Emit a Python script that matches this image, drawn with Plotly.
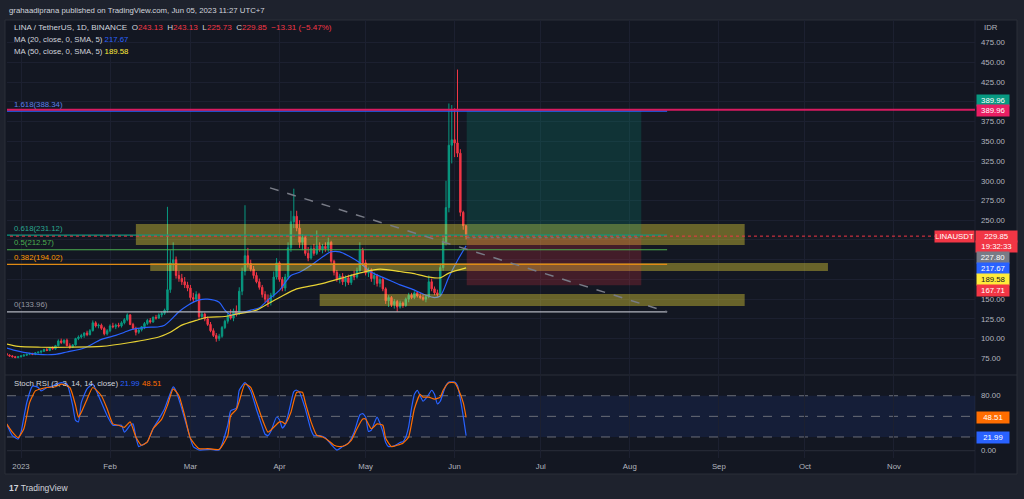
import pandas as pd
import plotly.graph_objects as go

# ---------------- data ----------------
candle_dates = pd.date_range("2022-12-27", "2023-06-05", freq="D")

opens = [81, 79, 78, 77, 76, 77, 78, 79, 80, 81,
         80, 82, 83, 84, 86, 85, 88, 87, 91, 97,
         95, 98, 91, 89, 92, 100, 102, 104, 107, 105,
         110, 120, 116, 117, 113, 106, 110, 116, 115, 117,
         116, 120, 124, 130, 118, 113, 108, 111, 115, 119,
         123, 121, 127, 126, 130, 132, 136, 162, 196, 200,
         180, 176, 172, 168, 164, 152, 150, 156, 128, 131,
         125, 118, 110, 104, 100, 103, 114, 122, 129, 126,
         135, 131, 160, 185, 205, 195, 188, 180, 172, 165,
         156, 150, 146, 155, 178, 196, 175, 164, 178, 215,
         248, 255, 240, 222, 228, 208, 202, 214, 208, 218,
         213, 217, 214, 222, 198, 184, 175, 179, 172, 177,
         171, 180, 178, 186, 212, 196, 183, 187, 176, 180,
         170, 175, 163, 148, 152, 143, 147, 140, 145, 142,
         150, 155, 152, 158, 154, 152, 150, 153, 172, 163,
         158, 156, 190, 222, 266, 345, 352, 348, 335, 260,
         243.13]
highs = [82, 80, 79, 78, 78, 79, 80, 81, 82, 82,
         83, 83, 85, 87, 88, 89, 90, 92, 99, 100,
         99, 100, 94, 93, 101, 104, 106, 108, 110, 112,
         123, 122, 119, 119, 115, 112, 118, 120, 119, 120,
         122, 126, 132, 131, 120, 115, 113, 116, 121, 125,
         126, 128, 130, 132, 134, 138, 267, 212, 222, 204,
         186, 182, 178, 172, 168, 158, 160, 158, 134, 133,
         128, 121, 113, 107, 106, 116, 124, 132, 137, 138,
         142, 165, 190, 269, 215, 200, 192, 184, 176, 168,
         160, 156, 158, 185, 202, 198, 178, 182, 222, 262,
         290, 262, 250, 232, 230, 216, 218, 220, 237, 222,
         220, 222, 228, 224, 200, 187, 182, 183, 180, 181,
         182, 186, 190, 222, 215, 200, 190, 189, 184, 182,
         178, 177, 165, 155, 154, 150, 149, 148, 147, 152,
         158, 158, 160, 160, 158, 156, 155, 180, 176, 166,
         162, 195, 228, 300, 398, 396, 392, 441, 340, 262,
         243.13]
lows = [78, 77, 76, 75, 75, 76, 77, 78, 79, 79,
        79, 81, 81, 83, 84, 84, 86, 86, 90, 93,
        93, 90, 87, 88, 91, 98, 100, 101, 103, 104,
        109, 114, 113, 111, 104, 104, 108, 113, 112, 114,
        114, 118, 122, 117, 111, 104, 106, 109, 112, 117,
        119, 120, 124, 125, 127, 130, 133, 158, 186, 176,
        172, 168, 164, 160, 148, 146, 147, 124, 124, 122,
        116, 108, 102, 96, 97, 101, 112, 119, 124, 122,
        128, 130, 155, 180, 190, 185, 176, 170, 162, 152,
        146, 140, 142, 152, 175, 172, 160, 160, 175, 210,
        240, 236, 215, 212, 205, 198, 200, 205, 206, 210,
        208, 210, 210, 195, 180, 172, 170, 168, 166, 168,
        168, 174, 176, 184, 192, 180, 178, 172, 168, 166,
        165, 160, 144, 140, 140, 138, 134, 138, 139, 140,
        146, 150, 150, 152, 150, 148, 146, 151, 160, 155,
        153, 154, 186, 218, 260, 322, 330, 330, 255, 238,
        225.73]
closes = [79, 78, 77, 76, 77, 78, 79, 80, 81, 80,
          82, 83, 84, 86, 85, 88, 87, 91, 97, 95,
          98, 91, 89, 92, 100, 102, 104, 107, 105, 110,
          120, 116, 117, 113, 106, 110, 116, 115, 117, 116,
          120, 124, 130, 118, 113, 108, 111, 115, 119, 123,
          121, 127, 126, 130, 132, 136, 162, 196, 200, 180,
          176, 172, 168, 164, 152, 150, 156, 128, 131, 125,
          118, 110, 104, 100, 103, 114, 122, 129, 126, 135,
          131, 160, 185, 205, 195, 188, 180, 172, 165, 156,
          150, 146, 155, 178, 196, 175, 164, 178, 215, 248,
          255, 240, 222, 228, 208, 202, 214, 208, 218, 213,
          217, 214, 222, 198, 184, 175, 179, 172, 177, 171,
          180, 178, 186, 212, 196, 183, 187, 176, 180, 170,
          175, 163, 148, 152, 143, 147, 140, 145, 142, 150,
          155, 152, 158, 154, 152, 150, 153, 172, 163, 158,
          156, 190, 222, 266, 345, 352, 348, 335, 260, 243.13,
          229.85]

ma20_dates = ["2022-12-27", "2022-12-31", "2023-01-07", "2023-01-13", "2023-01-17",
              "2023-01-23", "2023-01-29", "2023-02-03", "2023-02-06", "2023-02-09",
              "2023-02-13", "2023-02-18", "2023-02-20", "2023-02-22", "2023-02-25",
              "2023-02-28", "2023-03-04", "2023-03-07", "2023-03-11", "2023-03-13",
              "2023-03-15", "2023-03-17", "2023-03-22", "2023-03-25", "2023-03-28",
              "2023-04-01", "2023-04-05", "2023-04-08", "2023-04-12", "2023-04-17",
              "2023-04-19", "2023-04-22", "2023-04-25", "2023-04-29", "2023-05-03",
              "2023-05-08", "2023-05-13", "2023-05-17", "2023-05-22", "2023-05-25",
              "2023-05-27", "2023-05-30", "2023-06-02", "2023-06-05"]
ma20_vals = [88, 84, 80, 80, 83, 88, 99, 104, 108, 112,
             114, 115, 117, 123, 134, 142, 149, 150, 146, 136,
             130, 131, 136, 139, 149, 161, 180, 184, 193, 206,
             210, 210, 205, 196, 184, 176, 168, 163, 155, 152,
             154, 178, 199, 217.67]

ma50_dates = ["2022-12-27", "2022-12-31", "2023-01-08", "2023-01-17", "2023-01-29",
              "2023-02-08", "2023-02-18", "2023-02-22", "2023-02-26", "2023-03-03",
              "2023-03-07", "2023-03-13", "2023-03-17", "2023-03-24", "2023-03-27",
              "2023-04-01", "2023-04-07", "2023-04-15", "2023-04-22", "2023-04-30",
              "2023-05-06", "2023-05-13", "2023-05-17", "2023-05-23", "2023-05-27",
              "2023-05-30", "2023-06-05"]
ma50_vals = [93, 90, 89, 89, 90, 95, 102, 108, 117, 123,
             127, 128, 131, 136, 142, 152, 163, 169, 176, 184,
             188, 185, 183, 178, 177, 183, 189.58]

k_dates = ["2022-12-27", "2022-12-29", "2022-12-31", "2023-01-01", "2023-01-03",
           "2023-01-05", "2023-01-07", "2023-01-08", "2023-01-10", "2023-01-12",
           "2023-01-15", "2023-01-17", "2023-01-19", "2023-01-20", "2023-01-21",
           "2023-01-22", "2023-01-24", "2023-01-26", "2023-01-28", "2023-01-31",
           "2023-02-02", "2023-02-05", "2023-02-06", "2023-02-08", "2023-02-09",
           "2023-02-10", "2023-02-11", "2023-02-12", "2023-02-14", "2023-02-16",
           "2023-02-18", "2023-02-20", "2023-02-23", "2023-02-24", "2023-02-26",
           "2023-02-28", "2023-03-02", "2023-03-04", "2023-03-08", "2023-03-11",
           "2023-03-14", "2023-03-15", "2023-03-17", "2023-03-18", "2023-03-20",
           "2023-03-22", "2023-03-24", "2023-03-26", "2023-03-27", "2023-03-28",
           "2023-03-29", "2023-03-31", "2023-04-01", "2023-04-02", "2023-04-03",
           "2023-04-04", "2023-04-05", "2023-04-06", "2023-04-07", "2023-04-08",
           "2023-04-10", "2023-04-12", "2023-04-13", "2023-04-15", "2023-04-17",
           "2023-04-19", "2023-04-21", "2023-04-23", "2023-04-25", "2023-04-27",
           "2023-04-29", "2023-04-30", "2023-05-01", "2023-05-02", "2023-05-03",
           "2023-05-04", "2023-05-05", "2023-05-06", "2023-05-07", "2023-05-08",
           "2023-05-09", "2023-05-11", "2023-05-13", "2023-05-14", "2023-05-15",
           "2023-05-16", "2023-05-17", "2023-05-18", "2023-05-19", "2023-05-20",
           "2023-05-21", "2023-05-22", "2023-05-23", "2023-05-24", "2023-05-25",
           "2023-05-26", "2023-05-27", "2023-05-28", "2023-05-29", "2023-05-30",
           "2023-05-31", "2023-06-01", "2023-06-02", "2023-06-03", "2023-06-04",
           "2023-06-05"]
k_vals = [39, 22, 17, 27, 70, 94, 92, 87, 92, 94,
          99, 97, 66, 44, 42, 70, 90, 97, 80, 51,
          37, 37, 27, 37, 39, 20, 6, 8, 13, 32,
          46, 61, 93, 87, 61, 32, 6, 1, 2, 1,
          37, 58, 62, 88, 99, 87, 60, 35, 24, 22,
          28, 49, 45, 33, 38, 52, 70, 86, 88, 85,
          61, 30, 22, 22, 19, 9, 1, 6, 11, 27,
          52, 54, 49, 28, 30, 40, 49, 40, 28, 12,
          6, 7, 12, 13, 20, 35, 62, 82, 88, 80,
          72, 76, 82, 88, 82, 68, 72, 84, 95, 100,
          100, 100, 95, 75, 50, 21.99]

d_dates = ["2022-12-27", "2022-12-29", "2022-12-31", "2023-01-02", "2023-01-04",
           "2023-01-06", "2023-01-08", "2023-01-10", "2023-01-13", "2023-01-15",
           "2023-01-18", "2023-01-20", "2023-01-21", "2023-01-22", "2023-01-24",
           "2023-01-26", "2023-01-29", "2023-01-31", "2023-02-02", "2023-02-04",
           "2023-02-06", "2023-02-08", "2023-02-10", "2023-02-12", "2023-02-14",
           "2023-02-16", "2023-02-19", "2023-02-21", "2023-02-23", "2023-02-25",
           "2023-02-27", "2023-03-01", "2023-03-04", "2023-03-07", "2023-03-11",
           "2023-03-14", "2023-03-15", "2023-03-17", "2023-03-18", "2023-03-20",
           "2023-03-22", "2023-03-24", "2023-03-26", "2023-03-28", "2023-03-29",
           "2023-04-01", "2023-04-02", "2023-04-03", "2023-04-05", "2023-04-07",
           "2023-04-09", "2023-04-10", "2023-04-12", "2023-04-14", "2023-04-16",
           "2023-04-18", "2023-04-20", "2023-04-22", "2023-04-24", "2023-04-26",
           "2023-04-28", "2023-04-30", "2023-05-01", "2023-05-03", "2023-05-05",
           "2023-05-07", "2023-05-08", "2023-05-10", "2023-05-12", "2023-05-14",
           "2023-05-16", "2023-05-18", "2023-05-20", "2023-05-21", "2023-05-23",
           "2023-05-25", "2023-05-27", "2023-05-28", "2023-05-30", "2023-06-01",
           "2023-06-02", "2023-06-04", "2023-06-05"]
d_vals = [39, 27, 19, 32, 70, 87, 90, 92, 93, 97,
          92, 66, 49, 56, 75, 92, 80, 61, 39, 37,
          34, 42, 20, 8, 13, 32, 46, 66, 90, 80,
          51, 18, 3, 3, 2, 22, 51, 60, 72, 97,
          92, 70, 46, 27, 30, 42, 42, 39, 56, 85,
          85, 70, 42, 22.5, 20, 15, 8, 6, 8, 15,
          32, 46, 46, 32, 39, 37, 18, 6, 8, 11,
          20, 61, 82, 78, 78, 75, 78, 88, 99, 99,
          92, 70, 48.51]

# drawing levels
fib_levels = [388.34, 231.12, 212.57, 194.02, 133.96]
fib_labels = ["1.618(388.34)", "0.618(231.12)", "0.5(212.57)", "0.382(194.02)", "0(133.96)"]
fib_end = "2023-08-14"
zones = [("2023-02-10", "2023-09-10", 218.6, 245.2),
         ("2023-02-15", "2023-10-09", 185.6, 195.8),
         ("2023-04-15", "2023-09-10", 141.3, 156.5)]
entry, target, stop = 227.80, 389.96, 167.71
pos_start, pos_end = "2023-06-05 05:00", "2023-08-05"
trend = [("2023-03-28 17:00", 291.0), ("2023-08-14", 134.0)]
last_price = 229.85

month_ticks = ["2023-01-01", "2023-02-01", "2023-03-01", "2023-04-01", "2023-05-01", "2023-06-01",
               "2023-07-01", "2023-08-01", "2023-09-01", "2023-10-01", "2023-11-01"]
month_text = ["2023", "Feb", "Mar", "Apr", "May", "Jun", "Jul", "Aug", "Sep", "Oct", "Nov"]
price_ticks = list(range(75, 476, 25))
hidden_ticks = [400, 225, 200, 175]   # covered by the scale labels in the picture

# ---------------- styling ----------------
BG = "#131722"
FRAME = "#1e222d"
GRID = "#1c2030"
TXT = "#b2b5be"
GREEN = "#089981"
RED = "#f23645"
BLUE = "#2962ff"
YELLOW = "#ffeb3b"
ORANGE = "#ff6d00"
FONT = "Liberation Sans, Arial, sans-serif"
FS = 7.8


def px(x):   # figure pixel -> paper x (plot area 7..975)
    return (x - 7) / 968


def py(y):   # figure pixel -> paper y (plot area 20..458)
    return (458 - y) / 438


fig = go.Figure()

fig.add_trace(go.Candlestick(
    x=candle_dates, open=opens, high=highs, low=lows, close=closes,
    increasing=dict(line=dict(color=GREEN, width=1), fillcolor=GREEN),
    decreasing=dict(line=dict(color=RED, width=1), fillcolor=RED),
    whiskerwidth=0, showlegend=False, hoverinfo="skip"))
fig.add_trace(go.Scatter(x=ma20_dates, y=ma20_vals, mode="lines",
                         line=dict(color=BLUE, width=1.2, shape="spline", smoothing=0.8),
                         showlegend=False, hoverinfo="skip"))
fig.add_trace(go.Scatter(x=ma50_dates, y=ma50_vals, mode="lines",
                         line=dict(color="#e8d234", width=1.2, shape="spline", smoothing=0.8),
                         showlegend=False, hoverinfo="skip"))
fig.add_trace(go.Scatter(x=k_dates, y=k_vals, mode="lines", xaxis="x2", yaxis="y2",
                         line=dict(color=BLUE, width=1.2, shape="spline", smoothing=0.5),
                         showlegend=False, hoverinfo="skip"))
fig.add_trace(go.Scatter(x=d_dates, y=d_vals, mode="lines", xaxis="x2", yaxis="y2",
                         line=dict(color=ORANGE, width=1.2, shape="spline", smoothing=0.5),
                         showlegend=False, hoverinfo="skip"))

shapes = []
# chart frame + pane separator
shapes.append(dict(type="rect", xref="paper", yref="paper", x0=px(5), x1=px(1017), y0=py(474), y1=py(20),
                   fillcolor=BG, line=dict(color="#2a2e39", width=1), layer="below"))
shapes.append(dict(type="line", xref="paper", yref="paper", x0=px(5), x1=px(1017), y0=py(375), y1=py(375),
                   line=dict(color="#2a2e39", width=1), layer="below"))
shapes.append(dict(type="line", xref="paper", yref="paper", x0=px(975), x1=px(975), y0=py(474), y1=py(20),
                   line=dict(color="#1f2330", width=1), layer="below"))

# stoch band and levels
shapes.append(dict(type="rect", xref="paper", yref="y2", x0=0, x1=1, y0=20, y1=80,
                   fillcolor="rgba(41,98,255,0.10)", line=dict(width=0), layer="below"))
for lvl in (80, 50, 20):
    shapes.append(dict(type="line", xref="paper", yref="y2", x0=0, x1=1, y0=lvl, y1=lvl,
                       line=dict(color="#6a6d78", width=1, dash="dash"), layer="below"))
shapes.append(dict(type="line", xref="paper", yref="y2", x0=0, x1=1, y0=0, y1=0,
                   line=dict(color="#2a2e39", width=1), layer="below"))

# yellow zones
for x0, x1, y0, y1 in zones:
    shapes.append(dict(type="rect", xref="x", yref="y", x0=x0, x1=x1, y0=y0, y1=y1,
                       fillcolor="rgba(255,235,59,0.36)", line=dict(width=0), layer="above"))

# long position tool
shapes.append(dict(type="rect", xref="x", yref="y", x0=pos_start, x1=pos_end, y0=entry, y1=target,
                   fillcolor="rgba(8,153,129,0.22)", line=dict(width=0), layer="above"))
shapes.append(dict(type="rect", xref="x", yref="y", x0=pos_start, x1=pos_end, y0=stop, y1=entry,
                   fillcolor="rgba(242,54,69,0.22)", line=dict(width=0), layer="above"))
shapes.append(dict(type="line", xref="x", yref="y", x0=pos_start, x1=pos_end, y0=entry, y1=entry,
                   line=dict(color="#787b86", width=1, dash="dot"), layer="above"))

# fib levels
fib_colors = ["#2962ff", "#089981", "#4caf50", "#e08a14", "#b2b5be"]
for lvl, col in zip(fib_levels, fib_colors):
    shapes.append(dict(type="line", xref="x", yref="y", x0="2022-12-01", x1=fib_end, y0=lvl, y1=lvl,
                       line=dict(color=col, width=1.2), layer="above"))

# target line and current price line
shapes.append(dict(type="line", xref="x", yref="y", x0="2022-12-01", x1="2024-01-01", y0=target, y1=target,
                   line=dict(color="#d81b60", width=2), layer="above"))
shapes.append(dict(type="line", xref="x", yref="y", x0="2022-12-01", x1="2024-01-01",
                   y0=last_price, y1=last_price,
                   line=dict(color=RED, width=1, dash="dot"), layer="above"))
# dashed trend line
shapes.append(dict(type="line", xref="x", yref="y", x0=trend[0][0], y0=trend[0][1],
                   x1=trend[1][0], y1=trend[1][1],
                   line=dict(color="#787b86", width=1.5, dash="dash"), layer="above"))

ann = []


def text(x, y, s, color=TXT, size=FS, xanchor="left", **kw):
    ann.append(dict(xref="paper", yref="paper", x=px(x), y=py(y), text=s, showarrow=False,
                    xanchor=xanchor, yanchor="middle", font=dict(family=FONT, size=size, color=color), **kw))


def tag(y, s, bg, fg="#ffffff", x=976, w=31, xanchor="left"):
    ann.append(dict(xref="paper", yref="paper", x=px(x), y=py(y), text=s, showarrow=False,
                    xanchor=xanchor, yanchor="middle", bgcolor=bg, borderpad=0.5, width=w, height=10,
                    align="center", font=dict(family=FONT, size=FS, color=fg)))


NB = "\u00a0"
SP = NB * 2
text(7, 10, "grahaadiprana published on TradingView.com, Jun 05, 2023 11:27 UTC+7", color="#d1d4dc")


def red(v):
    return f"<span style='color:{RED}'>{v}</span>"


text(12, 27, "LINA / TetherUS, 1D, BINANCE" + SP + "O" + red("243.13") + SP + "H" + red("243.13")
     + SP + "L" + red("225.73") + SP + "C" + red("229.85") + SP + red("\u221213.31 (\u22125.47%)"),
     color="#d1d4dc", size=8.1)
text(12, 39, "MA (20, close, 0, SMA, 5)" + NB + f"<span style='color:{BLUE}'>217.67</span>", color="#d1d4dc")
text(12, 51, "MA (50, close, 0, SMA, 5)" + NB + f"<span style='color:{YELLOW}'>189.58</span>", color="#d1d4dc")
text(12, 383, "Stoch RSI (3, 3, 14, 14, close)" + NB + f"<span style='color:{BLUE}'>21.99</span>" + NB
     + f"<span style='color:{ORANGE}'>48.51</span>", color="#d1d4dc")

# fib labels above their lines
fib_text_colors = ["#5b7fe8", "#2aa690", "#4caf50", "#ff9800", "#9598a1"]
for lvl, lab, col in zip(fib_levels, fib_labels, fib_text_colors):
    ann.append(dict(xref="paper", yref="y", x=px(12), y=lvl, yshift=7, text=lab, showarrow=False,
                    xanchor="left", yanchor="middle", font=dict(family=FONT, size=FS, color=col)))

# right-hand scale labels
text(982, 27, "IDR")
tag(100, "389.96", "#089981")
tag(110.5, "389.96", "#e91e63")
tag(237, "LINAUSDT", RED, x=975, w=38, xanchor="right")
tag(237, "229.85", RED, x=975, w=40)
tag(246.5, "19:32:33", RED, x=975, w=40)
tag(257.5, "227.80", "#787b86")
tag(268.5, "217.67", BLUE)
tag(279.5, "189.58", YELLOW, fg="#131722")
tag(290.5, "167.71", RED)
tag(417.5, "48.51", ORANGE)
tag(437, "21.99", BLUE)

# footer
text(7, 488, "<b>17</b>" + NB + "TradingView", color="#d1d4dc", size=8.5)

axis_font = dict(family=FONT, size=FS, color=TXT)
fig.update_layout(
    width=1024, height=499,
    margin=dict(l=7, r=49, t=20, b=41),
    paper_bgcolor=FRAME, plot_bgcolor="rgba(0,0,0,0)",
    shapes=shapes, annotations=ann, showlegend=False,
    xaxis=dict(domain=[0, 1], anchor="y", type="date",
               range=["2022-12-27 03:00", "2023-11-29 05:00"],
               tickvals=month_ticks, showticklabels=False, showgrid=True, gridcolor=GRID,
               zeroline=False, showline=False, rangeslider=dict(visible=False), fixedrange=True),
    yaxis=dict(domain=[py(374), 1], anchor="x", side="right", range=[55.1, 503.8],
               tickvals=price_ticks,
               ticktext=["" if v in hidden_ticks else f"{v:.2f}" for v in price_ticks],
               tickfont=axis_font, showgrid=True, gridcolor=GRID, zeroline=False, ticklabelstandoff=5),
    xaxis2=dict(domain=[0, 1], anchor="y2", type="date", matches="x",
                tickvals=month_ticks, ticktext=month_text, tickfont=axis_font,
                showgrid=True, gridcolor=GRID, zeroline=False, showline=False, ticklabelstandoff=2),
    yaxis2=dict(domain=[0, py(376)], anchor="x2", side="right", range=[-10.6, 108.7],
                tickvals=[0, 80], ticktext=["0.00", "80.00"],
                tickfont=axis_font, showgrid=False, zeroline=False, ticklabelstandoff=5),
)

fig.write_html("out.html", config={"displayModeBar": False},
               post_script="document.body.style.margin='0';")
